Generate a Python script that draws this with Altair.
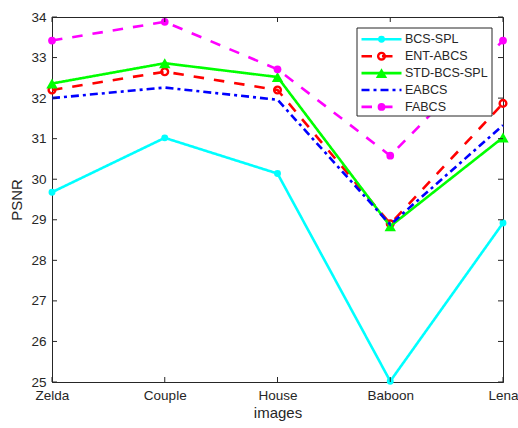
import altair as alt
import pandas as pd

# ---- data ----
images = ["Zelda", "Couple", "House", "Baboon", "Lena"]
series = ["BCS-SPL", "ENT-ABCS", "STD-BCS-SPL", "EABCS", "FABCS"]
bcs_spl = [29.68, 31.02, 30.14, 25.02, 28.92]
ent_abcs = [32.20, 32.65, 32.20, 28.90, 31.87]
std_bcs_spl = [32.36, 32.86, 32.52, 28.84, 31.03]
eabcs = [32.00, 32.26, 31.96, 28.88, 31.33]
fabcs = [33.42, 33.88, 32.71, 30.58, 33.42]
y_ticks = [25, 26, 27, 28, 29, 30, 31, 32, 33, 34]

values = {
    "BCS-SPL": bcs_spl,
    "ENT-ABCS": ent_abcs,
    "STD-BCS-SPL": std_bcs_spl,
    "EABCS": eabcs,
    "FABCS": fabcs,
}

# ---- styles ----
styles = {
    "BCS-SPL": dict(color="#00FFFF", dash=[1, 0], shape="circle", filled=True, size=48, sw=0),
    "ENT-ABCS": dict(color="#FF0000", dash=[10.5, 10], shape="circle", filled=False, size=45, sw=2.4),
    "STD-BCS-SPL": dict(color="#00FF00", dash=[1, 0], shape="triangle-up", filled=True, size=130, sw=1.5),
    "EABCS": dict(color="#0000FF", dash=[8, 4, 3, 4], shape=None, filled=True, size=0, sw=0),
    "FABCS": dict(color="#FF00FF", dash=[10.5, 10], shape="circle", filled=True, size=60, sw=0),
}

FONT = "Liberation Sans"
TXT = "#262626"
W, H = 451, 365

x_scale = alt.Scale(type="point", domain=images, padding=0)
y_scale = alt.Scale(domain=[25, 34], nice=False, zero=False)

x_axis = alt.Axis(title="images", labelFontSize=13.5, titleFontSize=15, titleFontWeight="normal",
                  labelFont=FONT, titleFont=FONT, labelColor=TXT, titleColor=TXT,
                  domainColor=TXT, domainWidth=1, ticks=False, tickSize=0, labelPadding=6,
                  titlePadding=4, grid=False, labelAngle=0)
y_axis = alt.Axis(title="PSNR", values=y_ticks, format="d", labelFontSize=13.5, titleFontSize=15,
                  titleFontWeight="normal", labelFont=FONT, titleFont=FONT, labelColor=TXT,
                  titleColor=TXT, domainColor=TXT, domainWidth=1, ticks=False, tickSize=0,
                  labelPadding=6, titlePadding=6, grid=False)


def X(field):
    return alt.X(field, scale=x_scale, axis=x_axis, sort=images)


def Y(field):
    return alt.Y(field, scale=y_scale, axis=y_axis)


layers = []
for s in series:
    st = styles[s]
    df = pd.DataFrame({"image": images, "psnr": values[s]})
    line = alt.Chart(df).mark_line(color=st["color"], strokeDash=st["dash"], strokeWidth=2.6).encode(
        x=X("image:N"), y=Y("psnr:Q"))
    layers.append(line)
    if st["shape"]:
        pt = alt.Chart(df).mark_point(shape=st["shape"], filled=st["filled"], size=st["size"],
                                      color=st["color"], strokeWidth=st["sw"] if st["sw"] else 1,
                                      opacity=1).encode(x=X("image:N"), y=Y("psnr:Q"))
        layers.append(pt)

# inward ticks (MATLAB style box)
ytdf = pd.DataFrame({"psnr": y_ticks})
xtdf = pd.DataFrame({"image": images})
for x0, x1 in [(0, 5), (W - 5, W)]:
    layers.append(alt.Chart(ytdf).mark_rule(color=TXT, strokeWidth=1).encode(
        y=Y("psnr:Q"), x=alt.value(x0), x2=alt.value(x1)))
for y0, y1 in [(H - 5, H), (0, 5)]:
    layers.append(alt.Chart(xtdf).mark_rule(color=TXT, strokeWidth=1).encode(
        x=X("image:N"), y=alt.value(y0), y2=alt.value(y1)))

# manual legend
one = alt.Data(values=[{"a": 1}])
layers.append(alt.Chart(one).mark_rect(fill="white", stroke=TXT, strokeWidth=1).encode(
    x=alt.value(305), x2=alt.value(440), y=alt.value(11), y2=alt.value(99)))
for i, s in enumerate(series):
    st = styles[s]
    yy = 22.3 + 16.9 * i
    layers.append(alt.Chart(one).mark_rule(color=st["color"], strokeDash=st["dash"], strokeWidth=2.6).encode(
        x=alt.value(309.5), x2=alt.value(349.5), y=alt.value(yy)))
    if st["shape"]:
        layers.append(alt.Chart(one).mark_point(shape=st["shape"], filled=st["filled"], size=st["size"],
                                                color=st["color"], strokeWidth=st["sw"] if st["sw"] else 1,
                                                opacity=1).encode(
            x=alt.value(329.5), y=alt.value(yy)))
    layers.append(alt.Chart(alt.Data(values=[{"name": s}])).mark_text(
        align="left", baseline="middle", fontSize=12.5, font=FONT, color=TXT).encode(
        x=alt.value(353), y=alt.value(yy), text=alt.Text("name:N")))

chart = alt.layer(*layers).properties(
    width=W, height=H,
    padding={"left": 52, "top": 17, "right": 15, "bottom": 46},
    autosize=alt.AutoSizeParams(type="none"),
).configure(background="white").configure_view(stroke=TXT, strokeWidth=1)

chart.save("out.html", embed_options={"renderer": "svg", "actions": False})
